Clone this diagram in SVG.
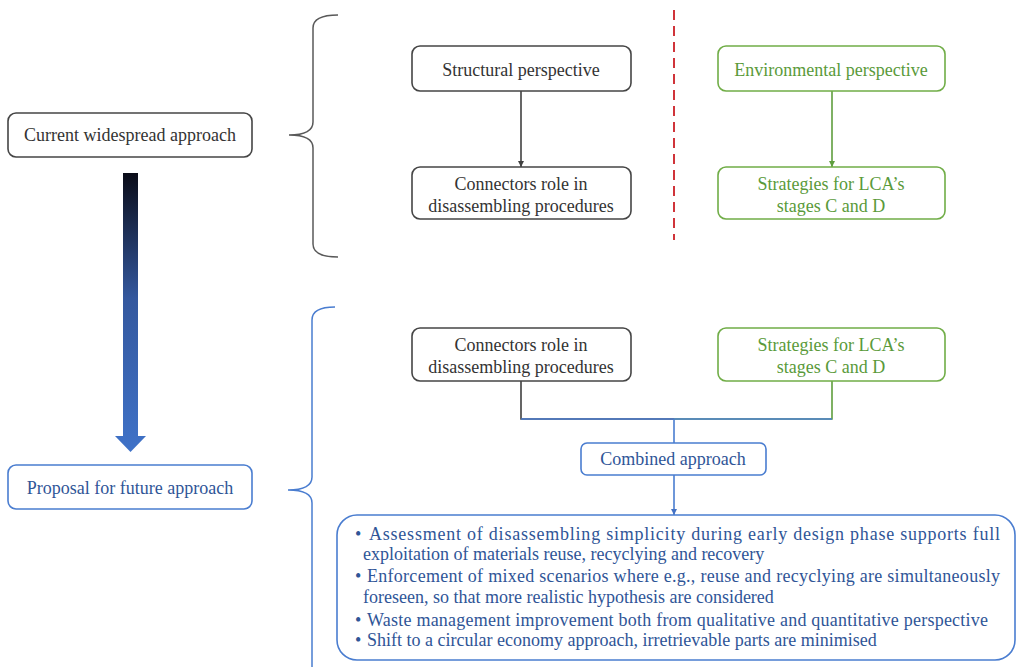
<svg xmlns="http://www.w3.org/2000/svg" width="1018" height="670" viewBox="0 0 1018 670">
  <defs>
    <linearGradient id="flowGrad" x1="0" y1="0" x2="0" y2="1">
      <stop offset="0" stop-color="#0a0c18"/>
      <stop offset="0.45" stop-color="#34589e"/>
      <stop offset="1" stop-color="#3f72c8"/>
    </linearGradient>
    <marker id="arrDark" viewBox="0 0 10 10" refX="10" refY="5" markerWidth="6" markerHeight="6" markerUnits="userSpaceOnUse" orient="auto">
      <path d="M0,0 L10,5 L0,10 z" fill="#404040"/>
    </marker>
    <marker id="arrGreen" viewBox="0 0 10 10" refX="10" refY="5" markerWidth="6" markerHeight="6" markerUnits="userSpaceOnUse" orient="auto">
      <path d="M0,0 L10,5 L0,10 z" fill="#5f9e3e"/>
    </marker>
    <marker id="arrBlue" viewBox="0 0 10 10" refX="10" refY="5" markerWidth="6" markerHeight="6" markerUnits="userSpaceOnUse" orient="auto">
      <path d="M0,0 L10,5 L0,10 z" fill="#4472c4"/>
    </marker>
  </defs>
  <style>
    text { font-family: 'Liberation Serif', 'Times New Roman', Times, serif; font-size: 18px; }
    .box { fill: #ffffff; stroke-width: 1.6; }
    .dark { stroke: #454545; }
    .green { stroke: #70ad47; }
    .blue { stroke: #4a7dd0; }
    .tDark { fill: #333333; }
    .tGreen { fill: #5a9a3a; }
    .tBlue { fill: #2f5597; }
    .mid { text-anchor: middle; }
    .brace { fill: none; stroke-width: 1.5; }
  </style>

  <rect width="1018" height="670" fill="#ffffff"/>

  <!-- braces -->
  <g id="braces">
    <path class="brace" stroke="#595959" d="M338,15 Q313,15 313,28 L313,122 Q313,135 289,135 Q313,135 313,148 L313,244 Q313,257 338,257"/>
    <path class="brace" stroke="#4a7dd0" d="M335,307 Q312,307 312,320 L312,477 Q312,490 288,490 Q312,490 312,503 L312,667"/>
  </g>

  <!-- separator -->
  <line x1="674" y1="10" x2="674" y2="240" stroke="#d0343a" stroke-width="2" stroke-dasharray="10,6"/>

  <!-- transition arrow -->
  <g id="transition-arrow">
    <path d="M123,173 L138,173 L138,436 L146,436 L130.5,452 L115,436 L123,436 Z" fill="url(#flowGrad)"/>
  </g>

  <!-- connectors -->
  <g id="connectors" fill="none" stroke-width="1.6">
    <line x1="521" y1="91" x2="521" y2="167" stroke="#404040" marker-end="url(#arrDark)"/>
    <line x1="832" y1="91" x2="832" y2="167" stroke="#5f9e3e" marker-end="url(#arrGreen)"/>
    <polyline points="521,381 521,419 674,419" stroke="#404040"/>
    <polyline points="832,381 832,419 674,419" stroke="#5f9e3e"/>
    <line x1="521" y1="419" x2="832" y2="419" stroke="#4a7dd0"/>
    <line x1="674" y1="419" x2="674" y2="443" stroke="#4a7dd0"/>
    <line x1="674" y1="475" x2="674" y2="515" stroke="#4a7dd0" marker-end="url(#arrBlue)"/>
  </g>

  <!-- left column -->
  <g id="current-approach">
    <rect class="box dark" x="8" y="113" width="244" height="44" rx="8"/>
    <text class="tDark mid" x="130" y="141">Current widespread approach</text>
  </g>
  <g id="future-approach">
    <rect class="box blue" x="8" y="465" width="244" height="44" rx="8"/>
    <text class="tBlue mid" x="130" y="494">Proposal for future approach</text>
  </g>

  <!-- current approach: two separate perspectives -->
  <g id="structural-perspective">
    <rect class="box dark" x="412" y="46" width="219" height="45" rx="8"/>
    <text class="tDark mid" x="521" y="76">Structural perspective</text>
  </g>
  <g id="connectors-role-top">
    <rect class="box dark" x="412" y="167" width="219" height="52" rx="8"/>
    <text class="tDark mid" x="521" y="190">Connectors role in</text>
    <text class="tDark mid" x="521" y="212">disassembling procedures</text>
  </g>
  <g id="environmental-perspective">
    <rect class="box green" x="718" y="46" width="227" height="45" rx="8"/>
    <text class="tGreen mid" x="831" y="76">Environmental perspective</text>
  </g>
  <g id="strategies-top">
    <rect class="box green" x="718" y="167" width="227" height="52" rx="8"/>
    <text class="tGreen mid" x="831" y="190">Strategies for LCA’s</text>
    <text class="tGreen mid" x="831" y="212">stages C and D</text>
  </g>

  <!-- future approach: combined perspectives -->
  <g id="connectors-role-bottom">
    <rect class="box dark" x="412" y="328" width="219" height="53" rx="8"/>
    <text class="tDark mid" x="521" y="351">Connectors role in</text>
    <text class="tDark mid" x="521" y="373">disassembling procedures</text>
  </g>
  <g id="strategies-bottom">
    <rect class="box green" x="718" y="328" width="227" height="53" rx="8"/>
    <text class="tGreen mid" x="831" y="351">Strategies for LCA’s</text>
    <text class="tGreen mid" x="831" y="373">stages C and D</text>
  </g>
  <g id="combined-approach">
    <rect class="box blue" x="581" y="443" width="185" height="32" rx="6"/>
    <text class="tBlue mid" x="673" y="465">Combined approach</text>
  </g>

  <g id="benefits">
    <rect class="box blue" x="337" y="515" width="678" height="145" rx="20"/>
    <g class="tBlue">
      <text x="355" y="540">•</text>
      <text x="369" y="540" textLength="631" lengthAdjust="spacing">Assessment of disassembling simplicity during early design phase supports full</text>
      <text x="363" y="560">exploitation of materials reuse, recyclying and recovery</text>
      <text x="355" y="582">•</text>
      <text x="367" y="582" textLength="633" lengthAdjust="spacing">Enforcement of mixed scenarios where e.g., reuse and recyclying are simultaneously</text>
      <text x="363" y="603">foreseen, so that more realistic hypothesis are considered</text>
      <text x="355" y="626">•</text>
      <text x="367" y="626" textLength="621" lengthAdjust="spacing">Waste management improvement both from qualitative and quantitative perspective</text>
      <text x="355" y="646">•</text>
      <text x="367" y="646">Shift to a circular economy approach, irretrievable parts are minimised</text>
    </g>
  </g>
</svg>
